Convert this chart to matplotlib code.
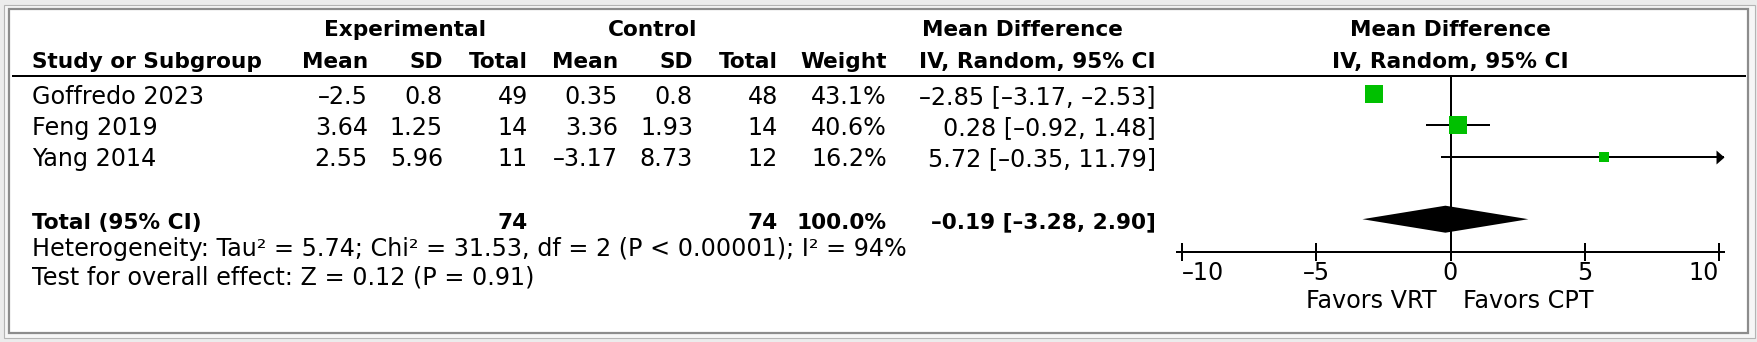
import matplotlib
matplotlib.use("Agg")
import matplotlib.pyplot as plt
from matplotlib.patches import Rectangle
from matplotlib.path import Path

# study-level data
studies = ["Goffredo 2023", "Feng 2019", "Yang 2014"]
exp_mean = [-2.5, 3.64, 2.55]
exp_sd = [0.8, 1.25, 5.96]
exp_n = [49, 14, 11]
ctl_mean = [0.35, 3.36, -3.17]
ctl_sd = [0.8, 1.93, 8.73]
ctl_n = [48, 14, 12]
weight = [43.1, 40.6, 16.2]
md = [-2.85, 0.28, 5.72]
md_lo = [-3.17, -0.92, -0.35]
md_hi = [-2.53, 1.48, 11.79]

# pooled estimate
tot_exp_n = 74
tot_ctl_n = 74
tot_weight = 100.0
tot_md, tot_lo, tot_hi = -0.19, -3.28, 2.90

het_text = "Heterogeneity: Tau² = 5.74; Chi² = 31.53, df = 2 (P < 0.00001); I² = 94%"
test_text = "Test for overall effect: Z = 0.12 (P = 0.91)"
favors = ("Favors VRT", "Favors CPT")
xticks = [-10, -5, 0, 5, 10]

W, H, DPI = 1758, 342, 100
FS = 17.2      # regular text
FS_B = 15.6    # bold text
GREEN = "#00c000"
LW = 1.44


def fmt(v, spec="g"):
    return format(v, spec).replace("-", "\u2013")


fig = plt.figure(figsize=(W / DPI, H / DPI), dpi=DPI, facecolor="#ececec")

# table layer in pixel units
tab = fig.add_axes([0, 0, 1, 1])
tab.set_xlim(0, W)
tab.set_ylim(H, 0)
tab.axis("off")
tab.add_patch(Rectangle((4.5, 4.5), W - 7, H - 9, fc="#f6f6f6", ec="#b4b4b4", lw=0.8))
tab.add_patch(Rectangle((9, 9), W - 19, H - 18, fc="white", ec="#8c8c8c", lw=1.6))
tab.plot([12, 1746], [76, 76], color="black", lw=LW, solid_capstyle="butt")

# column right edges
col_x = {"em": 368, "es": 443, "en": 528, "cm": 618, "cs": 693, "cn": 778,
         "w": 887, "ci": 1156}


def txt(x, y, s, ha="right", bold=False):
    tab.text(x, y, s, ha=ha, va="baseline", fontsize=FS_B if bold else FS,
             fontweight="bold" if bold else "normal", color="black")


# headers
txt(405, 36, "Experimental", ha="center", bold=True)
txt(653, 36, "Control", ha="center", bold=True)
txt(1022, 36, "Mean Difference", ha="center", bold=True)
txt(1450, 36, "Mean Difference", ha="center", bold=True)
txt(32, 68, "Study or Subgroup", ha="left", bold=True)
for key, lab in [("em", "Mean"), ("es", "SD"), ("en", "Total"), ("cm", "Mean"),
                 ("cs", "SD"), ("cn", "Total"), ("w", "Weight"),
                 ("ci", "IV, Random, 95% CI")]:
    txt(col_x[key], 68, lab, bold=True)
txt(1450, 68, "IV, Random, 95% CI", ha="center", bold=True)


def base_y(r):
    return 104 + 31.2 * r


for i, name in enumerate(studies):
    y = base_y(i)
    txt(32, y, name, ha="left")
    txt(col_x["em"], y, fmt(exp_mean[i]))
    txt(col_x["es"], y, fmt(exp_sd[i]))
    txt(col_x["en"], y, str(exp_n[i]))
    txt(col_x["cm"], y, fmt(ctl_mean[i]))
    txt(col_x["cs"], y, fmt(ctl_sd[i]))
    txt(col_x["cn"], y, str(ctl_n[i]))
    txt(col_x["w"], y, f"{weight[i]:.1f}%")
    txt(col_x["ci"], y, f"{fmt(md[i], '.2f')} [{fmt(md_lo[i], '.2f')}, {fmt(md_hi[i], '.2f')}]")

y = base_y(4)
txt(32, y, "Total (95% CI)", ha="left", bold=True)
txt(col_x["en"], y, str(tot_exp_n), bold=True)
txt(col_x["cn"], y, str(tot_ctl_n), bold=True)
txt(col_x["w"], y, f"{tot_weight:.1f}%", bold=True)
txt(col_x["ci"], y, f"{fmt(tot_md, '.2f')} [{fmt(tot_lo, '.2f')}, {fmt(tot_hi, '.2f')}]", bold=True)
txt(32, 256, het_text, ha="left")
txt(32, 285, test_text, ha="left")
txt(1437, 308, favors[0], ha="right")
txt(1463, 308, favors[1], ha="left")

# forest panel
px_unit = (1719 - 1182) / 20
ext = 5 / px_unit
row0, row_h = 94, 31.3
top_px, bot_px = 76, 252
fp = fig.add_axes([1177 / W, (H - bot_px) / H, 547 / W, (bot_px - top_px) / H])
fp.set_xlim(-10 - ext, 10 + ext)
fp.set_ylim((bot_px - row0) / row_h, (top_px - row0) / row_h)
fp.patch.set_visible(False)
for s in ["top", "left", "right"]:
    fp.spines[s].set_visible(False)
fp.spines["bottom"].set_linewidth(LW)
fp.set_yticks([])
fp.set_xticks(xticks)
fp.set_xticklabels([fmt(t) for t in xticks], fontsize=FS)
fp.tick_params(axis="x", direction="inout", length=12.5, width=LW, pad=0.5)
# end labels sit inside the axis span
tl = fp.get_xticklabels()
tl[0].set_ha("left")
tl[0].set_x(xticks[0] - 3 / px_unit)
tl[-1].set_ha("right")
tl[-1].set_x(xticks[-1] + 2 / px_unit)
fp.axvline(0, color="black", lw=LW)

arrow = Path([(-8, 7), (-8, -7), (0, 0), (-8, 7)],
             [Path.MOVETO, Path.LINETO, Path.LINETO, Path.CLOSEPOLY])
xmax = 10 + ext
for i in range(len(studies)):
    lo, hi = max(md_lo[i], -xmax), min(md_hi[i], xmax)
    fp.plot([lo, hi], [i, i], color="black", lw=LW, solid_capstyle="butt")
    if md_hi[i] > xmax:
        fp.plot(xmax, i, marker=arrow, ms=11.5, color="black", mew=0, clip_on=False)
    side = 1.29 * weight[i] ** 0.7
    fp.plot(md[i], i, marker="s", ms=side * 0.72, color=GREEN, mew=0)

h = 13.5 / row_h
fp.fill([tot_lo, tot_md, tot_hi, tot_md], [4, 4 - h, 4, 4 + h], color="black", lw=0)

fig.savefig("out.png", dpi=DPI, facecolor=fig.get_facecolor())
